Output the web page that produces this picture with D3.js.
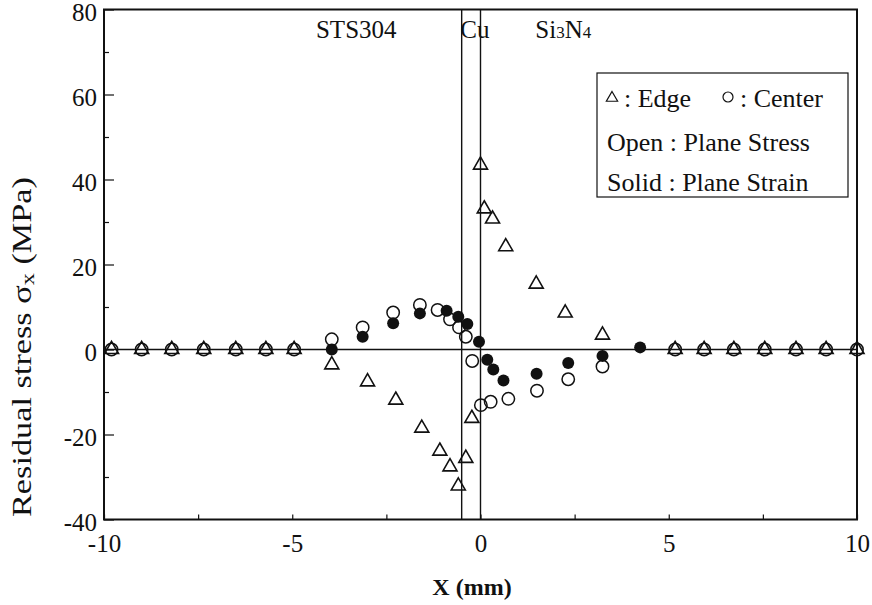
<!DOCTYPE html>
<html>
<head>
<meta charset="utf-8">
<script src="https://cdn.jsdelivr.net/npm/d3@7"></script>
<style>
  body { margin: 0; background: #fff; }
  svg text { font-family: "Liberation Serif", "Times New Roman", serif; fill: #111; }
</style>
</head>
<body>
<svg id="chart" width="872" height="605"></svg>
<script>
// Edge (open triangles, plane stress)
var edgeX = [-9.8, -9.0, -8.2, -7.35, -6.5, -5.7, -4.95, -3.95, -3.0, -2.25, -1.56, -1.08, -0.81, -0.59, -0.39, -0.23,
             0.0, 0.1, 0.32, 0.67, 1.48, 2.25, 3.24, 5.17, 5.94, 6.73, 7.55, 8.38, 9.18, 10.0];
var edgeY = [0, 0, 0, 0, 0, 0, 0, -3.6, -7.6, -11.9, -18.5, -23.9, -27.6, -32.1, -25.6, -16.2,
             43.4, 33.1, 30.7, 24.2, 15.4, 8.6, 3.4, 0, 0, 0, 0, 0, 0, 0];

// Center, open circles (plane stress)
var openX = [-9.8, -9.0, -8.2, -7.35, -6.5, -5.7, -4.95, -3.95, -3.13, -2.32, -1.61, -1.14, -0.81, -0.57, -0.39, -0.22,
             0.01, 0.27, 0.74, 1.5, 2.33, 3.24, 5.17, 5.94, 6.73, 7.55, 8.38, 9.18, 10.0];
var openY = [0, 0, 0, 0, 0, 0, 0, 2.4, 5.2, 8.7, 10.5, 9.3, 7.1, 5.2, 3.0, -2.7,
             -13.1, -12.3, -11.6, -9.7, -7.0, -4.0, 0, 0, 0, 0, 0, 0, 0];

// Center, solid circles (plane strain)
var solidX = [-3.95, -3.13, -2.32, -1.61, -0.9, -0.59, -0.35, -0.04, 0.18, 0.34, 0.61, 1.49, 2.33, 3.24, 4.24];
var solidY = [0, 3.0, 6.2, 8.5, 9.1, 7.7, 6.0, 1.8, -2.4, -4.7, -7.3, -5.7, -3.2, -1.5, 0.5];

var xTicks = [-10, -5, 0, 5, 10];
var xMinorTicks = [-7.5, -2.5, 2.5, 7.5];
var yTicks = [-40, -20, 0, 20, 40, 60, 80];
var yMinorTicks = [-30, -10, 10, 30, 50, 70];
var cuLayer = [-0.5, 0];
var materials = [
  { name: "STS304", x: -3.3 },
  { name: "Cu", x: -0.15 },
  { name: "Si3N4", x: 2.2 }
];
var legendLines = ["Open : Plane Stress", "Solid : Plane Strain"];

var svg = d3.select("#chart");
var mLeft = 104, mRight = 857, mTop = 9.5, mBottom = 519.5;

var x = d3.scaleLinear().domain([-10, 10]).range([mLeft, mRight]);
var y = d3.scaleLinear().domain([-40, 80]).range([mBottom, mTop]);

var zip = (xs, ys) => xs.map((v, i) => ({ x: v, y: ys[i] }));
var plain = d => String(d);

// axes, ticks point inward
svg.append("g")
  .attr("transform", `translate(${mLeft},0)`)
  .call(d3.axisLeft(y).tickValues(yTicks).tickSize(-10).tickPadding(7).tickFormat(plain))
  .selectAll("text").attr("dy", "0.42em");
svg.append("g")
  .attr("transform", `translate(${mLeft},0)`)
  .call(d3.axisLeft(y).tickValues(yMinorTicks).tickSize(-5).tickFormat(""));

svg.append("g")
  .attr("transform", `translate(0,${mBottom})`)
  .call(d3.axisBottom(x).tickValues(xTicks).tickSize(-5).tickPadding(15).tickFormat(plain));
svg.append("g")
  .attr("transform", `translate(0,${mBottom})`)
  .call(d3.axisBottom(x).tickValues(xMinorTicks).tickSize(-5).tickFormat(""));

svg.selectAll(".domain").remove();
svg.selectAll(".tick line").attr("stroke", "#111").attr("stroke-width", 1.2);
svg.selectAll(".tick text").style("font-size", "25px").attr("fill", "#111");

// frame
svg.append("rect")
  .attr("x", mLeft).attr("y", mTop)
  .attr("width", mRight - mLeft).attr("height", mBottom - mTop)
  .attr("fill", "none").attr("stroke", "#111").attr("stroke-width", 2);

// zero line and Cu interlayer
svg.append("line")
  .attr("x1", mLeft).attr("x2", mRight)
  .attr("y1", y(0)).attr("y2", y(0))
  .attr("stroke", "#111").attr("stroke-width", 1.3);

svg.selectAll(".cu")
  .data(cuLayer)
  .enter()
  .append("line")
  .attr("class", "cu")
  .attr("x1", d => x(d)).attr("x2", d => x(d))
  .attr("y1", mTop).attr("y2", mBottom)
  .attr("stroke", "#111").attr("stroke-width", 1.4);

// material labels
svg.selectAll(".mat")
  .data(materials)
  .enter()
  .append("text")
  .attr("class", "mat")
  .attr("x", d => x(d.x))
  .attr("y", 38)
  .attr("text-anchor", "middle")
  .style("font-size", "25px")
  .each(function(d) {
    var t = d3.select(this);
    if (d.name === "Si3N4") {
      t.append("tspan").text("Si");
      t.append("tspan").style("font-size", "17px").text("3");
      t.append("tspan").text("N");
      t.append("tspan").style("font-size", "17px").text("4");
    } else {
      t.text(d.name);
    }
  });

// markers
var tri = d3.symbol().type(d3.symbolTriangle).size(85);

svg.append("g").selectAll("path")
  .data(zip(edgeX, edgeY))
  .enter()
  .append("path")
  .attr("d", tri)
  .attr("transform", d => `translate(${x(d.x)},${y(d.y)})`)
  .attr("fill", "none")
  .attr("stroke", "#111").attr("stroke-width", 1.6);

svg.append("g").selectAll("circle")
  .data(zip(openX, openY))
  .enter()
  .append("circle")
  .attr("cx", d => x(d.x)).attr("cy", d => y(d.y))
  .attr("r", 6.2)
  .attr("fill", "none")
  .attr("stroke", "#111").attr("stroke-width", 1.5);

svg.append("g").selectAll("circle")
  .data(zip(solidX, solidY))
  .enter()
  .append("circle")
  .attr("cx", d => x(d.x)).attr("cy", d => y(d.y))
  .attr("r", 6)
  .attr("fill", "#111");

// legend
var legend = svg.append("g").attr("transform", "translate(597,73)");
legend.append("rect")
  .attr("width", 251).attr("height", 124)
  .attr("fill", "#fff").attr("stroke", "#111").attr("stroke-width", 1.2);

legend.append("path")
  .attr("d", d3.symbol().type(d3.symbolTriangle).size(55))
  .attr("transform", "translate(15,25)")
  .attr("fill", "none").attr("stroke", "#111").attr("stroke-width", 1.2);
legend.append("text").attr("x", 27).attr("y", 34).style("font-size", "26px").text(": Edge");
legend.append("circle")
  .attr("cx", 131).attr("cy", 24).attr("r", 5)
  .attr("fill", "none").attr("stroke", "#111").attr("stroke-width", 1.2);
legend.append("text").attr("x", 143).attr("y", 34).style("font-size", "26px").text(": Center");

legend.selectAll(".lg")
  .data(legendLines)
  .enter()
  .append("text")
  .attr("class", "lg")
  .attr("x", 10)
  .attr("y", (d, i) => 78 + i * 40)
  .style("font-size", "26px")
  .text(d => d);

// axis titles
svg.append("text")
  .attr("x", 472)
  .attr("y", 595)
  .attr("text-anchor", "middle")
  .style("font-size", "24px")
  .style("font-weight", "bold")
  .text("X (mm)");

var yl = svg.append("text")
  .attr("transform", "translate(31,347) rotate(-90)")
  .attr("text-anchor", "middle")
  .attr("textLength", 340)
  .attr("lengthAdjust", "spacingAndGlyphs")
  .style("font-size", "27px");
yl.append("tspan").text("Residual stress σ");
yl.append("tspan").style("font-size", "19px").attr("dy", 3).text("x");
yl.append("tspan").attr("dy", -3).text(" (MPa)");
</script>
</body>
</html>
